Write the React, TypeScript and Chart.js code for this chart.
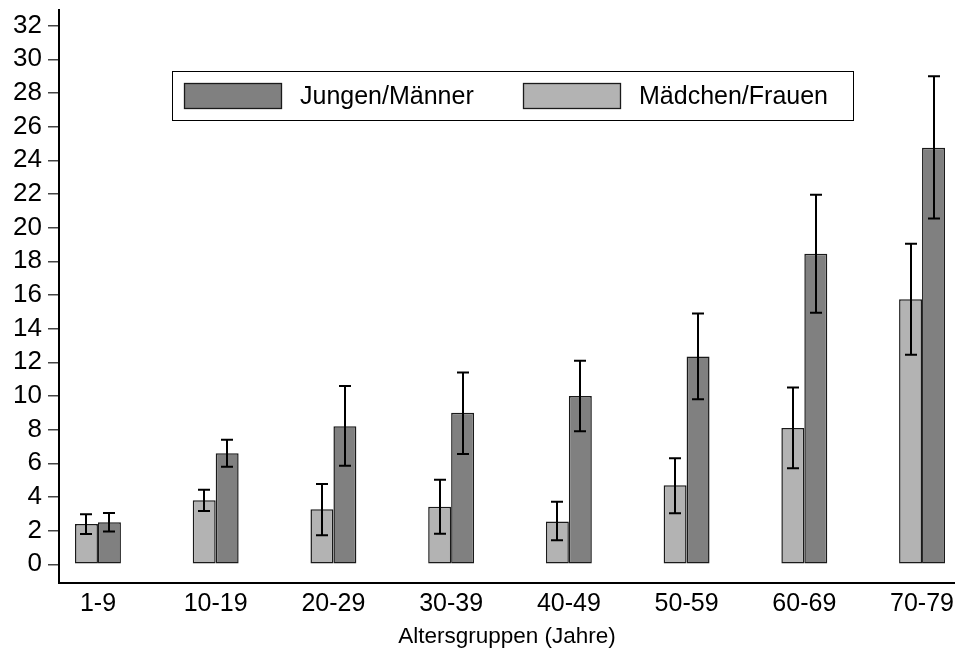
import React, { useEffect, useRef } from 'react';
import { Chart, registerables } from 'chart.js';

Chart.register(...registerables);

const categories = ['1-9', '10-19', '20-29', '30-39', '40-49', '50-59', '60-69', '70-79'];

const maennerValues = [2.5, 6.6, 8.2, 9.0, 10.0, 12.35, 18.45, 24.75];
const maennerLow = [1.95, 5.8, 5.85, 6.55, 7.9, 9.8, 14.95, 20.55];
const maennerHigh = [3.05, 7.4, 10.6, 11.4, 12.1, 14.9, 21.95, 29.0];

const frauenValues = [2.4, 3.8, 3.27, 3.42, 2.55, 4.7, 8.1, 15.75];
const frauenLow = [1.8, 3.17, 1.72, 1.82, 1.43, 3.03, 5.7, 12.45];
const frauenHigh = [2.97, 4.43, 4.77, 5.03, 3.72, 6.3, 10.5, 19.05];

const yTickValues = [0, 2, 4, 6, 8, 10, 12, 14, 16, 18, 20, 22, 24, 26, 28, 30, 32];

const labelMaenner = 'Jungen/Männer';
const labelFrauen = 'Mädchen/Frauen';
const xTitle = 'Altersgruppen (Jahre)';

const FONT = "'Liberation Sans', Arial, Helvetica, sans-serif";
const DARK = '#808080';
const LIGHT = '#b3b3b3';
const EDGE = '#1a1a1a';

export default function App() {
  const ref = useRef<HTMLCanvasElement | null>(null);

  useEffect(() => {
    if (!ref.current) return;

    const errorBars = {
      id: 'errorBars',
      afterDatasetsDraw(chart: any) {
        const ctx = chart.ctx;
        const y = chart.scales.y;
        ctx.save();
        ctx.strokeStyle = '#000';
        ctx.lineWidth = 2;
        chart.data.datasets.forEach((ds: any, di: number) => {
          const meta = chart.getDatasetMeta(di);
          meta.data.forEach((bar: any, i: number) => {
            const x = Math.round(bar.x);
            const yl = y.getPixelForValue(ds.errLow[i]);
            const yh = y.getPixelForValue(ds.errHigh[i]);
            const cap = 6;
            ctx.beginPath();
            ctx.moveTo(x, yl);
            ctx.lineTo(x, yh);
            ctx.moveTo(x - cap, yl);
            ctx.lineTo(x + cap, yl);
            ctx.moveTo(x - cap, yh);
            ctx.lineTo(x + cap, yh);
            ctx.stroke();
          });
        });
        ctx.restore();
      },
    };

    const boxLegend = {
      id: 'boxLegend',
      afterDraw(chart: any) {
        const ctx = chart.ctx;
        const ds = chart.data.datasets;
        const items = [ds[1], ds[0]];
        ctx.save();
        ctx.fillStyle = '#fff';
        ctx.fillRect(172.5, 71.5, 681, 49);
        ctx.strokeStyle = '#000';
        ctx.lineWidth = 1;
        ctx.strokeRect(172.5, 71.5, 681, 49);
        const swatchX = [184, 523];
        items.forEach((it: any, k: number) => {
          const sx = swatchX[k];
          ctx.fillStyle = it.backgroundColor;
          ctx.fillRect(sx + 0.5, 83.5, 97, 25);
          ctx.strokeStyle = EDGE;
          ctx.lineWidth = 1.3;
          ctx.strokeRect(sx + 0.5, 83.5, 97, 25);
          ctx.fillStyle = '#000';
          ctx.font = `25px ${FONT}`;
          ctx.textBaseline = 'middle';
          ctx.textAlign = 'left';
          ctx.fillText(it.label, sx + 116, 97);
        });
        ctx.restore();
      },
    };

    const chart = new Chart(ref.current, {
      type: 'bar',
      data: {
        datasets: [
          {
            label: labelFrauen,
            data: categories.map((_, i) => ({ x: i, y: frauenValues[i] })),
            backgroundColor: LIGHT,
            borderColor: EDGE,
            borderWidth: 1.5,
            borderSkipped: false,
            errLow: frauenLow,
            errHigh: frauenHigh,
          } as any,
          {
            label: labelMaenner,
            data: categories.map((_, i) => ({ x: i, y: maennerValues[i] })),
            backgroundColor: DARK,
            borderColor: EDGE,
            borderWidth: 1.5,
            borderSkipped: false,
            errLow: maennerLow,
            errHigh: maennerHigh,
          } as any,
        ],
      },
      options: {
        responsive: false,
        animation: false,
        devicePixelRatio: 1,
        layout: { padding: { top: 10, left: 0, right: 0, bottom: 0 } },
        datasets: {
          bar: { categoryPercentage: 0.39, barPercentage: 1 },
        },
        plugins: {
          legend: { display: false },
          tooltip: { enabled: false },
        },
        scales: {
          x: {
            type: 'linear',
            offset: false,
            min: -0.331,
            max: 7.28,
            grid: { display: false, drawTicks: false, tickLength: 0, offset: false },
            border: { display: true, color: '#000', width: 2 },
            afterBuildTicks: (scale: any) => {
              scale.ticks = categories.map((_, i) => ({ value: i }));
            },
            afterFit: (scale: any) => {
              scale.height = 69;
              scale.paddingLeft = 0;
              scale.paddingRight = 0;
            },
            ticks: {
              autoSkip: false,
              maxRotation: 0,
              padding: 6,
              color: '#000',
              font: { family: FONT, size: 25 },
              callback: (v: any) => categories[Math.round(Number(v))] ?? '',
            },
            title: {
              display: true,
              text: xTitle,
              color: '#000',
              font: { family: FONT, size: 22.5 },
              padding: { top: 0, bottom: 2 },
            },
          },
          y: {
            type: 'linear',
            min: -1.11,
            max: 32.93,
            afterBuildTicks: (scale: any) => {
              scale.ticks = yTickValues.map((v) => ({ value: v }));
            },
            afterFit: (scale: any) => {
              scale.width = 59;
              scale.paddingTop = 0;
              scale.paddingBottom = 0;
            },
            grid: {
              display: true,
              drawOnChartArea: false,
              drawTicks: true,
              tickLength: 11,
              color: '#444',
              lineWidth: 1.5,
            },
            border: { display: true, color: '#000', width: 2 },
            ticks: {
              padding: 6,
              color: '#000',
              font: { family: FONT, size: 26 },
              callback: (v: any) => String(v),
            },
          },
        },
      },
      plugins: [errorBars, boxLegend],
    } as any);

    return () => chart.destroy();
  }, []);

  return (
    <div style={{ position: 'fixed', left: 0, top: 0, width: 955, height: 652, background: '#fff' }}>
      <canvas ref={ref} width={955} height={652} style={{ display: 'block', width: 955, height: 652 }} />
    </div>
  );
}
